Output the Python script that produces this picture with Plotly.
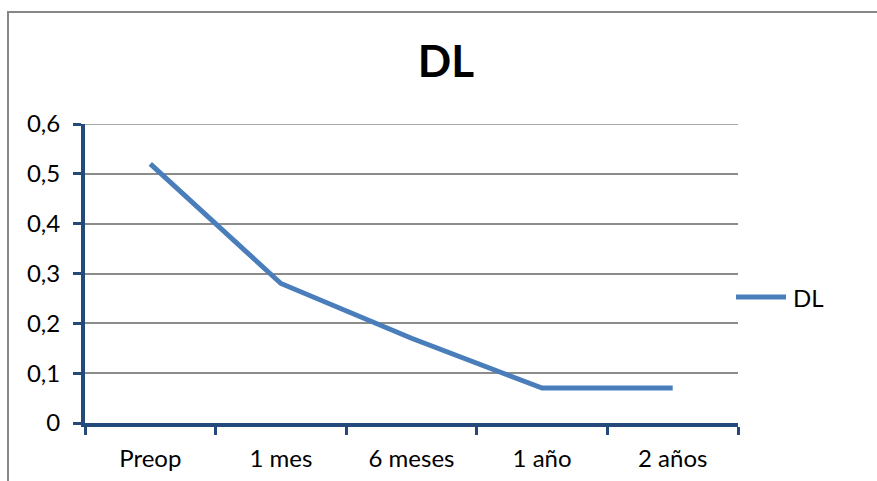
import plotly.graph_objects as go

# Series data
categories = ["Preop", "1 mes", "6 meses", "1 año", "2 años"]
dl_values = [0.52, 0.28, 0.17, 0.07, 0.07]
series_name = "DL"
y_ticks = [0, 0.1, 0.2, 0.3, 0.4, 0.5, 0.6]
y_tick_labels = ["0", "0,1", "0,2", "0,3", "0,4", "0,5", "0,6"]

W, H = 877, 481
L, R, T, B = 85, 139, 124, 58
PW, PH = W - L - R, H - T - B

axis_blue = "#244A7C"
line_blue = "#4A7EBB"
grid_gray = "#8C8C8C"
font_family = "Lato, 'Open Sans', sans-serif"
tick_size = 24


def px_x(p):
    """Pixel column -> paper x."""
    return (p - L) / PW


def px_y(p):
    """Pixel row -> paper y."""
    return (H - B - p) / PH


fig = go.Figure()
fig.add_trace(go.Scatter(
    x=categories, y=dl_values, mode="lines", name=series_name,
    line=dict(color=line_blue, width=5), showlegend=False,
))

fig.update_layout(
    width=W, height=H,
    margin=dict(l=L, r=R, t=T, b=B, pad=0, autoexpand=False),
    paper_bgcolor="white", plot_bgcolor="white",
    font=dict(family=font_family, size=tick_size, color="black"),
    title=dict(text="<b>DL</b>", x=446 / W, xref="container", xanchor="center",
               y=1 - 62 / H, yanchor="middle",
               font=dict(family=font_family, size=44, color="black")),
    xaxis=dict(
        type="category", range=[-0.5, 4.5], tickson="boundaries",
        showline=True, linecolor=axis_blue, linewidth=4,
        ticks="outside", ticklen=8, tickwidth=3, tickcolor=axis_blue,
        showgrid=False, zeroline=False, ticklabelstandoff=11,
        tickfont=dict(size=tick_size),
    ),
    yaxis=dict(
        range=[0, 0.6], tickvals=y_ticks, ticktext=y_tick_labels,
        showline=True, linecolor=axis_blue, linewidth=4,
        ticks="outside", ticklen=8, tickwidth=3, tickcolor=axis_blue,
        showgrid=True, gridcolor=grid_gray, gridwidth=1.5,
        zeroline=False, ticklabelstandoff=8,
        tickfont=dict(size=tick_size),
    ),
    shapes=[
        # outer chart frame
        dict(
            type="rect", xref="paper", yref="paper",
            x0=px_x(8), x1=px_x(W + 20), y0=px_y(H + 20), y1=px_y(12),
            line=dict(color="#878787", width=2), fillcolor="rgba(0,0,0,0)",
            layer="below",
        ),
        # gridline at the top of the value range
        dict(
            type="line", xref="paper", yref="y", x0=0, x1=1,
            y0=y_ticks[-1], y1=y_ticks[-1],
            line=dict(color=grid_gray, width=1.5), layer="below",
        ),
        # legend key
        dict(
            type="line", xref="paper", yref="paper",
            x0=px_x(736), x1=px_x(786), y0=px_y(297), y1=px_y(297),
            line=dict(color=line_blue, width=5),
        ),
    ],
    annotations=[dict(
        text=series_name, xref="paper", yref="paper",
        x=px_x(791), y=px_y(297), xanchor="left", yanchor="middle",
        showarrow=False, font=dict(size=tick_size, color="black"),
    )],
)

fig.write_html("out.html")
